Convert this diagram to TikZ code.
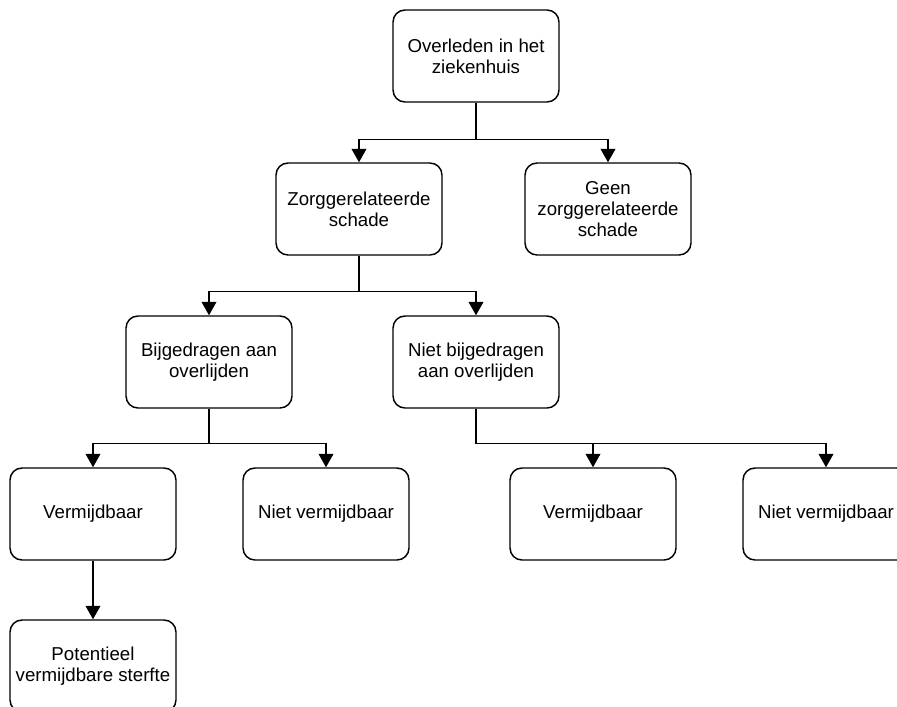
\documentclass[tikz,border=0pt]{standalone}
\usepackage{fontspec}
\setmainfont{Liberation Sans}
\usetikzlibrary{arrows.meta}
\tikzset{
  box/.style={draw, line width=1.1pt, rounded corners=9pt, minimum width=124.5pt,
    minimum height=69pt, inner sep=2pt, align=center,
    font=\fontsize{14}{15.5}\selectfont},
  link/.style={line width=1.1pt},
  arr/.style={link, -{Triangle[width=11pt,length=10pt]}}
}
\begin{document}
\begin{tikzpicture}[x=0.75pt,y=-0.75pt]
      \useasboundingbox (0,0) rectangle (897,707);
      \clip (0,0) rectangle (897,707);
      \draw
        (476,56) node[box] (dead){Overleden in het\\ziekenhuis}
        (359,209) node[box] (harm){Zorggerelateerde\\schade}
        (608,209) node[box] (noharm){Geen\\zorggerelateerde\\schade}
        (209,362) node[box] (contrib){Bijgedragen aan\\overlijden}
        (476,362) node[box] (nocontrib){Niet bijgedragen\\aan overlijden}
        (93,514) node[box] (avoid1){Vermijdbaar}
        (326,514) node[box] (unavoid1){Niet vermijdbaar}
        (593,514) node[box] (avoid2){Vermijdbaar}
        (826,514) node[box] (unavoid2){Niet vermijdbaar}
        (93,666) node[box] (potential){Potentieel\\vermijdbare sterfte};
      \begin{scope}[link]
        \draw (dead.south) -- ++(0,37) coordinate (j1);
        \draw (harm.south) -- ++(0,36) coordinate (j2);
        \draw (contrib.south) -- ++(0,35) coordinate (j3);
        \draw (nocontrib.south) -- ++(0,35) coordinate (j4);
      \end{scope}
      \begin{scope}[arr]
        \draw (j1) -| (harm.north);
        \draw (j1) -| (noharm.north);
        \draw (j2) -| (contrib.north);
        \draw (j2) -| (nocontrib.north);
        \draw (j3) -| (avoid1.north);
        \draw (j3) -| (unavoid1.north);
        \draw (j4) -| (avoid2.north);
        \draw (j4) -| (unavoid2.north);
        \draw (avoid1.south) to (potential.north);
      \end{scope}
    \end{tikzpicture}
\end{document}
